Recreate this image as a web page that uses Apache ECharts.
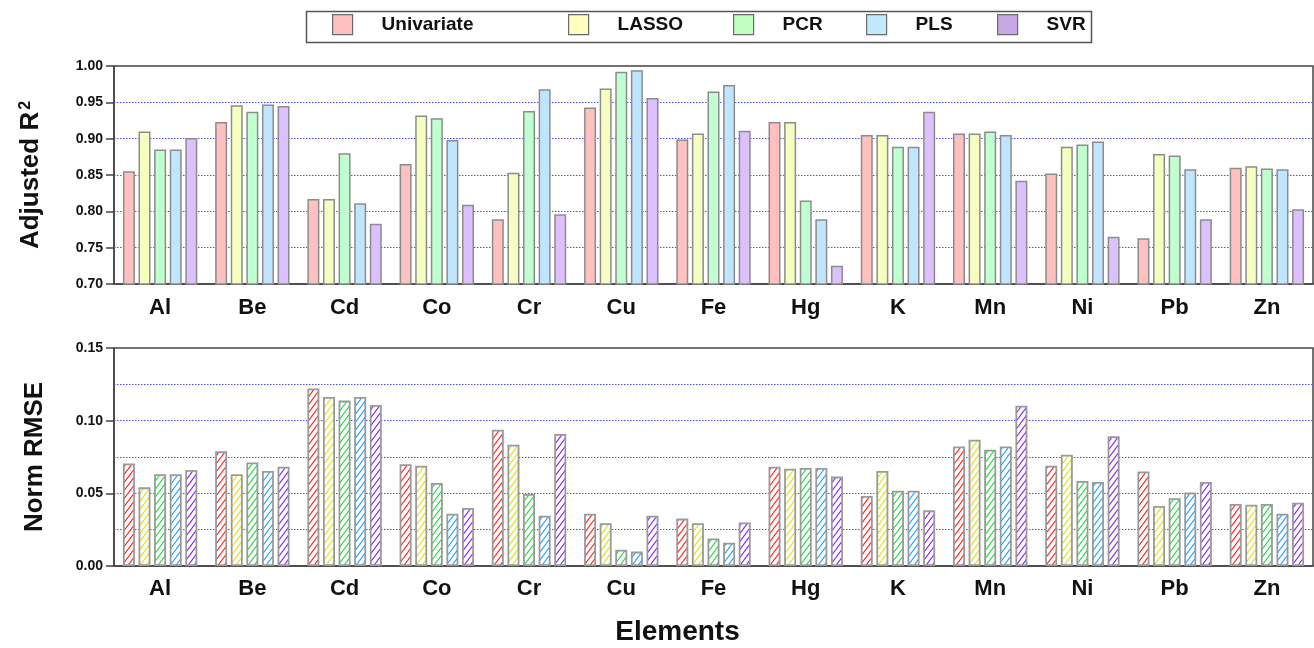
<!DOCTYPE html>
<html>
<head>
<meta charset="utf-8">
<script src="https://cdn.jsdelivr.net/npm/echarts@6/dist/echarts.min.js"></script>
<style>html,body{margin:0;padding:0;background:#fff}#c{width:1314px;height:648px}</style>
</head>
<body>
<div id="c"></div>
<script>
const categories = ['Al','Be','Cd','Co','Cr','Cu','Fe','Hg','K','Mn','Ni','Pb','Zn'];
const methods = ['Univariate','LASSO','PCR','PLS','SVR'];

// Adjusted R^2 (top panel)
const r2Univariate = [0.855,0.923,0.817,0.865,0.789,0.943,0.899,0.923,0.905,0.907,0.852,0.763,0.860];
const r2LASSO      = [0.910,0.946,0.817,0.932,0.853,0.969,0.907,0.923,0.905,0.907,0.889,0.879,0.862];
const r2PCR        = [0.885,0.937,0.880,0.928,0.938,0.992,0.965,0.815,0.889,0.910,0.892,0.877,0.859];
const r2PLS        = [0.885,0.947,0.811,0.898,0.968,0.994,0.974,0.789,0.889,0.905,0.896,0.858,0.858];
const r2SVR        = [0.901,0.945,0.783,0.809,0.796,0.956,0.911,0.725,0.937,0.842,0.765,0.789,0.803];

// Norm RMSE (bottom panel)
const rmseUnivariate = [0.0706,0.0789,0.1222,0.0700,0.0938,0.0360,0.0326,0.0683,0.0482,0.0823,0.0690,0.0651,0.0427];
const rmseLASSO      = [0.0541,0.0631,0.1163,0.0690,0.0835,0.0294,0.0294,0.0670,0.0654,0.0869,0.0766,0.0413,0.0422];
const rmsePCR        = [0.0631,0.0713,0.1138,0.0571,0.0495,0.0112,0.0190,0.0674,0.0518,0.0800,0.0585,0.0466,0.0427];
const rmsePLS        = [0.0631,0.0654,0.1163,0.0360,0.0346,0.0099,0.0160,0.0674,0.0518,0.0823,0.0578,0.0505,0.0360];
const rmseSVR        = [0.0661,0.0683,0.1108,0.0399,0.0908,0.0346,0.0300,0.0615,0.0383,0.1103,0.0892,0.0578,0.0436];

const r2Ticks = [0.70,0.75,0.80,0.85,0.90,0.95,1.00];
const rmseTicks = [0.00,0.05,0.10,0.15];

const r2Data = [r2Univariate, r2LASSO, r2PCR, r2PLS, r2SVR];
const rmseData = [rmseUnivariate, rmseLASSO, rmsePCR, rmsePLS, rmseSVR];

const pastel = ['#ffc0c0','#f7ffc0','#c0ffd0','#c0e6ff','#dcc0ff'];
const legendFill = ['#ffc0c0','#ffffc0','#c0ffc0','#c0e8ff','#c8a8e4'];
const hatchColors = ['#ff2a2a','#e2e21e','#2adc48','#2aa4ff','#8c2aff'];

function hatch(color){
  const w = 6, h = 8;
  const c = document.createElement('canvas');
  c.width = w; c.height = h;
  const g = c.getContext('2d');
  g.fillStyle = '#ffffff'; g.fillRect(0,0,w,h);
  g.strokeStyle = color; g.lineWidth = 1.2;
  g.beginPath();
  g.moveTo(0,h); g.lineTo(w,0);
  g.moveTo(-w,h); g.lineTo(w,-h);
  g.moveTo(0,2*h); g.lineTo(2*w,0);
  g.stroke();
  return c;
}

const chart = echarts.init(document.getElementById('c'), null, {renderer:'canvas'});

const gridLineStyle = {color:'#4d4dff', width:1, type:[1.5,1.5]};
const axisFont = {fontFamily:'Arial, Liberation Sans, sans-serif', fontWeight:'bold', color:'#111'};

const series = [];
methods.forEach((m,i)=>{
  series.push({
    name:m, type:'bar', xAxisIndex:0, yAxisIndex:0,
    data:r2Data[i], barWidth:12, barGap:'30%',
    itemStyle:{color:pastel[i], borderColor:'#8c8c8c', borderWidth:1.5},
    emphasis:{disabled:true}
  });
});
methods.forEach((m,i)=>{
  series.push({
    name:m, type:'bar', xAxisIndex:1, yAxisIndex:1,
    data:rmseData[i], barWidth:12, barGap:'30%',
    itemStyle:{color:{image:hatch(hatchColors[i]), repeat:'repeat'}, borderColor:'#9a9a9a', borderWidth:1.8},
    emphasis:{disabled:true}
  });
});

const legendIconX = [332,568,733,866,997];
const legends = methods.map((m,i)=>({
  data:[{name:m, itemStyle:{color:legendFill[i], borderColor:'#6a6a6a', borderWidth:1.2}}],
  left:legendIconX[i], top:14, padding:0,
  icon:'rect', itemWidth:20, itemHeight:20,
  selectedMode:false,
  textStyle:Object.assign({fontSize:19, padding:[0,0,0,24]}, axisFont)
}));

const option = {
  animation:false,
  backgroundColor:'#ffffff',
  legend:legends,
  graphic:[{
    type:'rect', left:304, top:9, shape:{width:785, height:31},
    style:{fill:'none', stroke:'#555', lineWidth:1.5}, silent:true
  }],
  grid:[
    {left:114, width:1199, top:66, height:218, show:true, borderColor:'#444', borderWidth:1.5, outerBoundsMode:'none', containLabel:false},
    {left:114, width:1199, top:348, height:218, show:true, borderColor:'#444', borderWidth:1.5, outerBoundsMode:'none', containLabel:false}
  ],
  xAxis:[
    {type:'category', gridIndex:0, data:categories,
     axisLine:{lineStyle:{color:'#444', width:1.5}}, axisTick:{show:false},
     axisLabel:Object.assign({fontSize:22, margin:13}, axisFont)},
    {type:'category', gridIndex:1, data:categories,
     axisLine:{lineStyle:{color:'#444', width:1.5}}, axisTick:{show:false},
     axisLabel:Object.assign({fontSize:22, margin:12}, axisFont),
     name:'Elements', nameLocation:'middle', nameGap:52,
     nameTextStyle:Object.assign({fontSize:28, padding:[0,72,0,0]}, axisFont)}
  ],
  yAxis:[
    {type:'value', gridIndex:0, min:r2Ticks[0], max:r2Ticks[r2Ticks.length-1], interval:0.05,
     axisLine:{show:true, lineStyle:{color:'#444', width:1.5}},
     axisTick:{show:true, inside:false, length:8, lineStyle:{color:'#444', width:1.5}},
     axisLabel:Object.assign({fontSize:14, margin:11, formatter:v=>v.toFixed(2)}, axisFont),
     splitLine:{show:true, showMinLine:false, showMaxLine:false, lineStyle:gridLineStyle},
     name:'Adjusted R{sup|2}', nameLocation:'middle', nameRotate:90, nameGap:70,
     nameTextStyle:Object.assign({fontSize:26, rich:{sup:{fontSize:16, fontWeight:'bold', fontFamily:'Arial, Liberation Sans, sans-serif', color:'#111', verticalAlign:'top', padding:[0,0,10,2]}}}, axisFont)},
    {type:'value', gridIndex:1, min:rmseTicks[0], max:rmseTicks[rmseTicks.length-1], interval:0.05,
     axisLine:{show:true, lineStyle:{color:'#444', width:1.5}},
     axisTick:{show:true, inside:false, length:8, lineStyle:{color:'#444', width:1.5}},
     axisLabel:Object.assign({fontSize:14, margin:11, formatter:v=>v.toFixed(2)}, axisFont),
     splitLine:{show:true, showMinLine:false, showMaxLine:false, lineStyle:gridLineStyle},
     minorTick:{show:false, splitNumber:2},
     minorSplitLine:{show:true, lineStyle:gridLineStyle},
     name:'Norm RMSE', nameLocation:'middle', nameRotate:90, nameGap:66,
     nameTextStyle:Object.assign({fontSize:26}, axisFont)}
  ],
  series:series
};
chart.setOption(option);
</script>
</body>
</html>
